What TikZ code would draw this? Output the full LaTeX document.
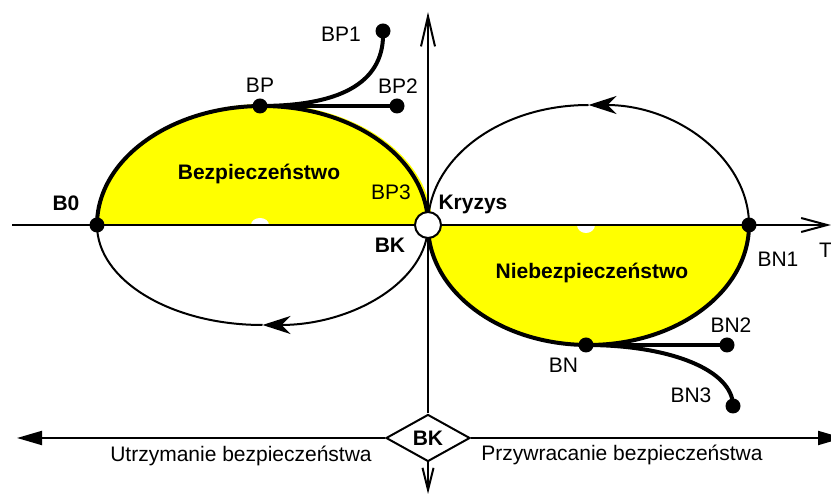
\documentclass[tikz,border=0pt]{standalone}
\usepackage{fontspec}
\setmainfont{Liberation Sans}
\usetikzlibrary{arrows.meta,shapes.geometric}
\definecolor{zone}{RGB}{255,255,0}
\begin{document}
\begin{tikzpicture}[x=1pt,y=1pt,
  font=\fontsize{21}{24}\selectfont,
  axis/.style={line width=2pt},
  thinpath/.style={line width=2pt},
  thickpath/.style={line width=4pt},
  dot/.style={circle,fill=black,inner sep=0pt,minimum size=15pt},
  lbl/.style={inner sep=0pt,anchor=base},
  blbl/.style={inner sep=0pt,anchor=base,font=\fontsize{21}{24}\selectfont\bfseries},
  flowtip/.style={-{Stealth[length=28pt,width=18pt,inset=9pt]}},
  barb/.style={-{Straight Barb[length=#1,width=14pt]}},
  solidtip/.style={-{Triangle[length=25pt,width=14pt]}},
]
\useasboundingbox (0,0) rectangle (831,495);

% key points
\coordinate (kpt) at (428,270);
\coordinate (hstart) at (12,270);
\coordinate (hend) at (831,270);
\coordinate (vtop) at (428,483);
\coordinate (vbot) at (428,1);
\coordinate (lend) at (17,57);
\coordinate (rend) at (843,57);

% shaded zones
\fill[zone] (97,270) arc[start angle=180,end angle=0,x radius=167.5,y radius=121] -- cycle;
\fill[zone] (kpt) arc[start angle=180,end angle=360,x radius=160.5,y radius=120] -- cycle;
\fill[white] (251,270) arc[start angle=180,end angle=0,x radius=9,y radius=7] -- cycle;
\fill[white] (577,270) arc[start angle=180,end angle=360,x radius=9,y radius=8] -- cycle;

% time axis
\draw[axis,barb=26pt] (hstart) -- (hend);

% safe loop: upper arc (thick), lower return arc (thin)
\draw[thickpath] (97,270) arc[start angle=180,end angle=0,x radius=165.5,y radius=119];
\draw[thinpath,flowtip] (kpt) arc[start angle=0,end angle=-90,x radius=165.5,y radius=100];
\draw[thinpath] (262.5,170) arc[start angle=-90,end angle=-180,x radius=165.5,y radius=100];

% unsafe loop: lower arc (thick), upper return arc (thin)
\draw[thickpath] (kpt) arc[start angle=180,end angle=360,x radius=160.5,y radius=120];
\draw[thinpath,flowtip] (749,270) arc[start angle=0,end angle=90,x radius=160.5,y radius=120];
\draw[thinpath] (588.5,390) arc[start angle=90,end angle=180,x radius=160.5,y radius=120];

% decision diamond and the axes through it
\node[diamond,draw,line width=2pt,fill=white,minimum width=84pt,minimum height=47pt,
      inner sep=0pt,aspect=1.77] (bk) at (428,57) {\bfseries BK};
\draw[axis,barb=30pt] (bk.north) -- (vtop);
\draw[axis,-{Straight Barb[length=22pt,width=11pt]}] (bk.south) -- (vbot);
\draw[axis,solidtip] (bk.west) -- (lend);
\draw[axis,solidtip] (bk.east) -- (rend);

% state points
\node[dot] (b0) at (97,270) {};
\node[dot] (bn1) at (749,270) {};
\node[dot] (bp) at (260,389) {};
\node[dot] (bp1) at (383,464) {};
\node[dot] (bp2) at (397,389) {};
\node[dot] (bn) at (586,150) {};
\node[dot] (bn2) at (727,150) {};
\node[dot] (bn3) at (733,89) {};

% branches
\draw[thickpath] (bp.center) -- (bp2.center);
\draw[thickpath] (bp.center) .. controls (345,389) and (385,415) .. (bp1.center);
\draw[thickpath] (bn.center) -- (bn2.center);
\draw[thickpath] (bn.center) .. controls (670,150) and (733,125) .. (bn3.center);

% crisis point
\node[circle,draw,line width=2pt,fill=white,minimum size=26pt,inner sep=0pt] (kr) at (kpt) {};

% labels
\node[lbl] (tbp) at (260,402.5) {BP};
\node[lbl] (tbp1) at (341,453.5) {BP1};
\node[lbl] (tbp2) at (398,401.5) {BP2};
\node[lbl] (tbp3) at (391,295) {BP3};
\node[blbl] (tb0) at (66,284) {B0};
\node[blbl] (tkr) at (473,285) {Kryzys};
\node[blbl] (tbk) at (390,242) {BK};
\node[blbl] (tsafe) at (259,315) {Bezpieczeństwo};
\node[blbl] (tunsafe) at (592,216) {Niebezpieczeństwo};
\node[lbl] (tbn1) at (778,228) {BN1};
\node[lbl] (tbn) at (563.5,122) {BN};
\node[lbl] (tbn2) at (731,162) {BN2};
\node[lbl] (tbn3) at (691,92) {BN3};
\node[lbl,anchor=base west] (tt) at (819,237) {T};
\node[lbl] (tkeep) at (241,33) {Utrzymanie bezpieczeństwa};
\node[lbl] (trest) at (622,34) {Przywracanie bezpieczeństwa};
\end{tikzpicture}
\end{document}
